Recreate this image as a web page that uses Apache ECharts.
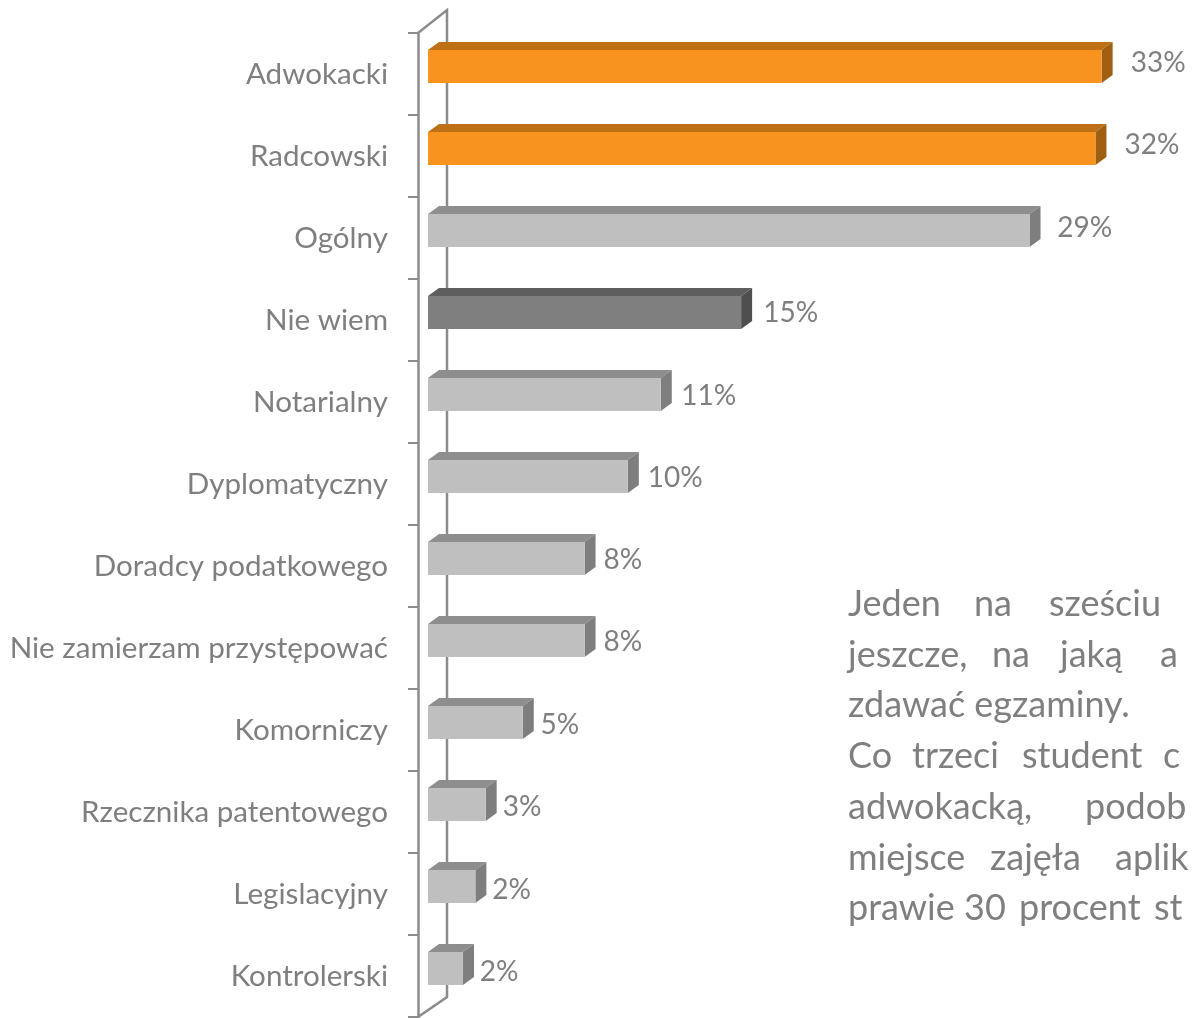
<!DOCTYPE html>
<html>
<head>
<meta charset="utf-8">
<script src="https://cdn.jsdelivr.net/npm/echarts@6/dist/echarts.min.js"></script>
<style>
html,body{margin:0;padding:0;background:#ffffff;}
#c{width:1193px;height:1018px;}
</style>
</head>
<body>
<div id="c"></div>
<script>
// ---------- DATA ----------
const categories = [
  'Adwokacki', 'Radcowski', 'Ogólny', 'Nie wiem', 'Notarialny', 'Dyplomatyczny',
  'Doradcy podatkowego', 'Nie zamierzam przystępować', 'Komorniczy',
  'Rzecznika patentowego', 'Legislacyjny', 'Kontrolerski'
];
const values = [32.7, 32.4, 29.2, 15.2, 11.3, 9.7, 7.6, 7.6, 4.6, 2.8, 2.3, 1.7];
const barGroup = ['orange', 'orange', 'gray', 'dark', 'gray', 'gray', 'gray', 'gray', 'gray', 'gray', 'gray', 'gray'];

// visible (clipped) paragraph text, word by word
const paragraphLines = [
  ['Jeden', 'na', 'sześciu'],
  ['jeszcze,', 'na', 'jaką', 'a'],
  ['zdawać egzaminy.'],
  ['Co', 'trzeci', 'student', 'c'],
  ['adwokacką,', 'podob'],
  ['miejsce', 'zajęła', 'aplik'],
  ['prawie', '30', 'procent', 'st']
];

// ---------- LAYOUT / STYLE ----------
const wordX = [
  [848, 974, 1049],
  [848, 992, 1060, 1160],
  [848],
  [848, 912, 1022, 1163],
  [848, 1085],
  [848, 990, 1115],
  [848, 964, 1019, 1154]
];
const palette = {
  orange: { front: '#F8931F', top: '#BE7016', side: '#A05E10' },
  gray:   { front: '#BFBFBF', top: '#8E8E8E', side: '#7E7E7E' },
  dark:   { front: '#7F7F7F', top: '#5E5E5E', side: '#4F4F4F' }
};
const FONT = 'Lato, "Open Sans", sans-serif';
const TEXT_COLOR = '#7F7F7F';
const LINE_COLOR = '#8C8C8C';

function fitSize(text, target) {
  const ctx = document.createElement('canvas').getContext('2d');
  ctx.font = '100px ' + FONT;
  const w = ctx.measureText(text).width;
  return Math.round(100 * target / w * 10) / 10;
}
const catSize = fitSize('Nie zamierzam przystępować', 378);
const valSize = fitSize('33%', 55);
const parSize = 36;

// 3D geometry (pixels)
const FRONT_DX = 10;                 // bar front face offset into depth
const DEPTH_DX = 11, DEPTH_DY = -8;  // bar depth
const WALL_DX = 29, WALL_DY = -23;   // wall depth

function renderBar(params, api) {
  const v = api.value(0);
  const ci = api.value(1);
  const base = api.coord([0, ci]);
  const end = api.coord([v, ci]);
  const x0 = base[0] + FRONT_DX;
  const x1 = end[0] + FRONT_DX;
  const yT = base[1] - 24;
  const yB = base[1] + 9;
  const col = palette[barGroup[params.dataIndex]];
  const gap = 5 + 0.4 * v;
  return {
    type: 'group',
    children: [
      { type: 'polygon', shape: { points: [[x0, yT], [x1, yT], [x1 + DEPTH_DX, yT + DEPTH_DY], [x0 + DEPTH_DX, yT + DEPTH_DY]] },
        style: { fill: col.top } },
      { type: 'polygon', shape: { points: [[x1, yT], [x1 + DEPTH_DX, yT + DEPTH_DY], [x1 + DEPTH_DX, yB + DEPTH_DY], [x1, yB]] },
        style: { fill: col.side } },
      { type: 'rect', shape: { x: x0, y: yT, width: x1 - x0, height: yB - yT },
        style: { fill: col.front } },
      { type: 'text', x: x1 + DEPTH_DX + gap, y: base[1] - 4 - 0.22 * v,
        style: { text: Math.round(v) + '%', fill: TEXT_COLOR, font: valSize + 'px ' + FONT,
                 align: 'left', verticalAlign: 'middle' } }
    ]
  };
}

function renderWall(params, api) {
  const cs = params.coordSys;
  const x = cs.x, y = cs.y, h = cs.height;
  return {
    type: 'polyline',
    shape: { points: [[x, y], [x + WALL_DX, y + WALL_DY], [x + WALL_DX, y + h + WALL_DY + 3], [x, y + h]] },
    style: { stroke: LINE_COLOR, lineWidth: 2.5, fill: null }
  };
}

const graphics = [];
paragraphLines.forEach((words, li) => {
  words.forEach((w, wi) => {
    graphics.push({
      type: 'text', left: wordX[li][wi], top: 616 + li * 50.7 - parSize * 0.82,
      style: { text: w, fill: TEXT_COLOR, font: parSize + 'px ' + FONT }
    });
  });
});

const chart = echarts.init(document.getElementById('c'), null, { renderer: 'canvas' });
chart.setOption({
  animation: false,
  backgroundColor: '#ffffff',
  grid: { left: 418, top: 33, width: 721, height: 984, containLabel: false },
  xAxis: { type: 'value', min: 0, max: 35, show: false },
  yAxis: {
    type: 'category', data: categories, inverse: true,
    axisLine: { show: true, lineStyle: { color: LINE_COLOR, width: 2.5 } },
    axisTick: { show: true, length: 10, lineStyle: { color: LINE_COLOR, width: 2 } },
    axisLabel: { margin: 30, color: TEXT_COLOR, fontSize: catSize, fontFamily: FONT },
    splitLine: { show: false }
  },
  series: [
    { type: 'custom', renderItem: renderWall, data: [[0, 0]], z: 1, silent: true,
      encode: { x: 0, y: 1 } },
    { type: 'custom', renderItem: renderBar, z: 2,
      data: values.map((v, i) => [v, i]), encode: { x: 0, y: 1 } }
  ],
  graphic: graphics
});
</script>
</body>
</html>
